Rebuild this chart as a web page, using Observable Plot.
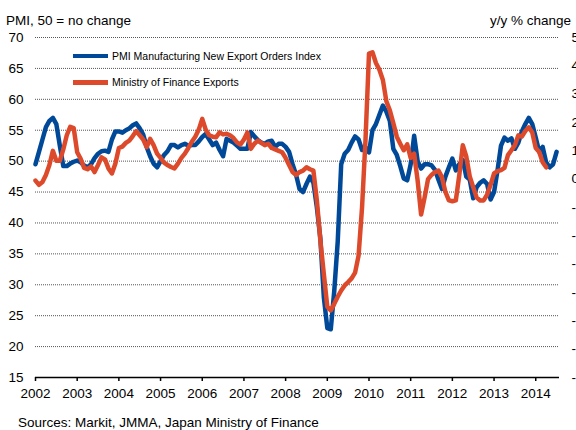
<!DOCTYPE html>
<html><head><meta charset="utf-8">
<script src="https://cdn.jsdelivr.net/npm/d3@7"></script>
<script src="https://cdn.jsdelivr.net/npm/@observablehq/plot@0.6"></script>
<style>
html,body{margin:0;padding:0;background:#fff;overflow:hidden;}
body{width:576px;height:430px;position:relative;font-family:"Liberation Sans",Arial,sans-serif;color:#000;}
.t{position:absolute;font-size:13.5px;line-height:14px;white-space:nowrap;}
#chart{position:absolute;left:0;top:28px;width:576px;}
.sw{position:absolute;height:4.5px;width:35px;left:73px;}
.lg{position:absolute;font-size:10.5px;line-height:12px;white-space:nowrap;left:112px;}
</style></head><body>
<div class="t" style="left:6px;top:13.5px">PMI, 50 = no change</div>
<div class="t" style="right:5px;top:13.5px">y/y % change</div>
<div id="chart"></div>
<div class="sw" id="sw1" style="top:53.5px"></div>
<div class="lg" id="lg1" style="top:49.8px"></div>
<div class="sw" id="sw2" style="top:80px"></div>
<div class="lg" id="lg2" style="top:76.4px"></div>
<div class="t" style="left:18px;top:416px">Sources: Markit, JMMA, Japan Ministry of Finance</div>
<script>
// ---- data ----
const startYear = 2002;
const seriesNames = ["PMI Manufacturing New Export Orders Index", "Ministry of Finance Exports"];
const seriesColors = ["#004898", "#dc4a2b"];
// PMI new export orders index, monthly from Jan 2002
const pmiExportOrders = [
  49.5, 51.5, 53.5, 55.5, 56.5, 57.0, 56.0, 52.5, 49.2, 49.2, 49.6, 49.9,
  50.1, 49.8, 49.3, 49.0, 49.5, 50.5, 51.2, 51.6, 51.7, 51.5, 53.5, 54.8,
  54.8, 54.6, 55.0, 55.3, 55.8, 56.1, 55.3, 54.3, 52.3, 50.8, 49.6, 49.0,
  50.0, 51.0, 51.6, 52.6, 52.6, 52.2, 52.6, 52.8, 52.5, 52.6, 52.6, 53.2,
  53.9, 54.4, 53.5, 52.6, 53.0, 51.8, 50.8, 53.6, 53.3, 53.0, 52.5, 52.0,
  52.0, 52.0, 54.7, 54.0, 53.4, 53.0, 52.8, 53.2, 53.3, 52.3, 52.8, 52.8,
  52.3, 51.5, 49.5, 47.8, 45.5, 45.0, 46.3, 47.5, 46.5, 42.5, 37.5, 28.0,
  23.0, 22.8, 29.0, 37.0, 49.5, 51.2, 51.8, 53.0, 54.0, 53.5, 51.8, 52.2,
  51.4, 55.0, 56.0, 57.5, 59.0, 58.0, 56.5, 52.0, 51.0, 49.2, 47.2, 46.9,
  49.5, 54.1, 50.0, 48.8, 49.5, 49.5, 49.3, 48.6, 47.0, 45.5, 47.5, 49.0,
  50.4, 48.5, 49.5, 50.2, 47.5, 47.0, 44.0, 45.8, 46.5, 46.9, 46.3, 43.8,
  45.0, 48.5, 52.5, 53.8, 53.3, 53.7, 52.0, 53.0, 54.8, 56.0, 57.0, 56.0,
  53.8, 51.5, 52.3, 49.8, 49.0, 49.5, 51.5
];
// MoF exports, y/y % change, monthly from Jan 2002
const mofExportsYoY = [
  -0.5, -2.0, -1.0, 1.5, 5.0, 10.0, 6.5, 6.5, 10.5, 15.5, 18.5, 18.0,
  9.5, 7.2, 4.0, 3.5, 4.5, 2.5, 5.0, 7.7, 7.0, 3.8, 2.0, 5.5,
  11.0, 11.5, 12.8, 13.6, 15.2, 17.0, 15.5, 14.0, 11.3, 14.2, 12.0, 9.0,
  7.5, 5.8, 5.0, 4.3, 3.8, 5.5, 7.5, 9.0, 11.0, 13.2, 15.0, 17.5,
  21.3, 17.5, 15.5, 15.0, 14.8, 16.5, 15.8, 16.0, 15.5, 14.5, 13.0, 12.2,
  14.0, 16.5, 10.7, 12.5, 13.6, 12.8, 12.0, 12.5, 11.0, 10.5, 10.0, 9.5,
  7.5, 5.0, 2.5, 1.5, 2.5, 3.0, 4.2, 3.5, 3.0, -7.5, -21.6, -33.5,
  -45.0, -46.3, -44.0, -41.5, -39.3, -37.5, -36.3, -35.0, -33.0, -27.0, -10.0, 14.0,
  44.3, 44.8, 41.0, 38.6, 35.0, 27.5, 24.3, 19.8, 15.0, 12.5, 10.2, 12.3,
  7.5, 9.0, -0.5, -12.5, -6.5, 0.0, 1.5, 2.5, 3.0, 0.7, -4.5, -7.5,
  -7.8, -7.5, 1.5, 12.0, 8.0, 1.0, -2.8, -6.5, -7.5, -7.5, -5.5, -2.0,
  2.0, 2.8, 3.2, 4.0, 8.5, 10.2, 12.0, 15.5, 15.0, 17.0, 18.3, 16.5,
  11.0, 9.6, 6.0, 4.2
];
const years = [2002,2003,2004,2005,2006,2007,2008,2009,2010,2011,2012,2013,2014];
const leftTicks = [15,20,25,30,35,40,45,50,55,60,65,70];
const gridTicks = [20,25,30,35,40,45,50,55,60,65,70];
const rightTicks = [50,40,30,20,10,0,-10,-20,-30,-40,-50,-60,-70];

// dual-axis mapping: right scale 50..-70 aligned with left 70..15
const toPMI = v => 70 - (50 - v) * 55 / 120;
const toPct = p => (p - 70) * 120 / 55 + 50;

const blueData = pmiExportOrders.map((v, i) => ({x: startYear + i / 12, y: v}));
const redData = mofExportsYoY.map((v, i) => ({x: startYear + i / 12, y: toPMI(v)}));

const plot = Plot.plot({
  width: 576,
  height: 372,
  marginLeft: 35,
  marginRight: 17,
  marginTop: 9,
  marginBottom: 23,
  style: {fontFamily: "'Liberation Sans', Arial, sans-serif", fontSize: "13.5px", background: "white", overflow: "hidden", color: "#000"},
  x: {domain: [2002, 2014.57], axis: null},
  y: {domain: [15, 70], axis: null},
  marks: [
    Plot.ruleY(gridTicks, {stroke: "#555", strokeDasharray: "1,1", strokeWidth: 1}),
    Plot.ruleY([15], {stroke: "#000", strokeWidth: 1.5}),
    Plot.axisX(years, {tickSize: 4, tickPadding: 7, tickFormat: d => String(d), label: null, stroke: "#000", strokeWidth: 1.5}),
    Plot.axisY(leftTicks, {anchor: "left", tickSize: 0, tickPadding: 12, label: null}),
    Plot.axisY(rightTicks.map(toPMI), {anchor: "right", tickSize: 0, tickPadding: 12, label: null, textAnchor: "start", tickFormat: d => String(Math.round(toPct(d)))}),
    Plot.line(blueData, {x: "x", y: "y", stroke: seriesColors[0], strokeWidth: 4.5}),
    Plot.line(redData, {x: "x", y: "y", stroke: seriesColors[1], strokeWidth: 4.5})
  ]
});
document.getElementById("chart").appendChild(plot);
document.getElementById("sw1").style.background = seriesColors[0];
document.getElementById("sw2").style.background = seriesColors[1];
document.getElementById("lg1").textContent = seriesNames[0];
document.getElementById("lg2").textContent = seriesNames[1];
</script>
</body></html>
